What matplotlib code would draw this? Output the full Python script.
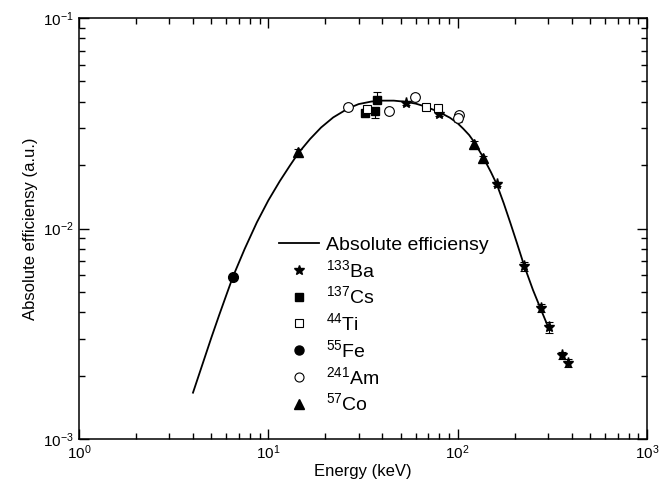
import matplotlib
matplotlib.use("Agg")
import matplotlib.pyplot as plt
from matplotlib.lines import Line2D

plt.rcParams['font.family'] = ['Liberation Sans', 'DejaVu Sans']
plt.rcParams['mathtext.fontset'] = 'custom'
plt.rcParams['mathtext.rm'] = 'Liberation Sans'
plt.rcParams['mathtext.it'] = 'Liberation Sans:italic'
plt.rcParams['mathtext.default'] = 'regular'

# fitted efficiency curve
curve_E = [4.0, 4.5, 5.0, 5.5, 6.0, 6.5, 7.5, 8.7, 10.0, 11.5, 13.0, 14.4, 16.6, 19.0,
           22.0, 26.4, 30.0, 35.0, 40.0, 46.0, 53.0, 60.0, 68.0, 80.0, 91.0, 100.0,
           107.0, 115.0, 122.0, 136.0, 150.0, 161.0, 175.0, 190.0, 205.0, 224.0,
           250.0, 276.0, 305.0]
curve_eff = [0.00166, 0.00228, 0.00303, 0.00388, 0.00483, 0.00590, 0.00800, 0.0107,
             0.0136, 0.0168, 0.0199, 0.0228, 0.0266, 0.0302, 0.0337, 0.0372, 0.0390,
             0.0401, 0.0405, 0.0405, 0.0400, 0.0392, 0.0379, 0.0357, 0.0336, 0.0316,
             0.0298, 0.0278, 0.0258, 0.0219, 0.0185, 0.0162, 0.0132, 0.0106, 0.0086,
             0.0067, 0.0051, 0.0041, 0.0033]

ba_E = [53.3, 80.0, 161.0, 224.0, 276.0, 303.0, 356.0, 384.0]
ba_eff = [0.0395, 0.0351, 0.0163, 0.0066, 0.0042, 0.0034, 0.0025, 0.0023]
ba_err = [0.0008, 0.0008, 0.0004, 0.0003, 0.0002, 0.0002, 0.0001, 0.0001]

cs_E = [32.4, 37.5, 36.6]
cs_eff = [0.0355, 0.0408, 0.0362]
cs_err_lo = [0.0, 0.0, 0.0026]
cs_err_hi = [0.0, 0.0037, 0.0]

ti_E = [33.2, 68.1, 79.0]
ti_eff = [0.0368, 0.0379, 0.0374]
ti_err = [0.0012, 0.0010, 0.0012]

fe_E = [6.5]
fe_eff = [0.0059]

am_E = [26.4, 43.4, 59.7, 101.8, 100.5]
am_eff = [0.0379, 0.0362, 0.0422, 0.0347, 0.0336]
am_err = [0.0012, 0.0, 0.0012, 0.0012, 0.0015]

co_E = [14.4, 122.0, 136.0]
co_eff = [0.0231, 0.0253, 0.0216]
co_err = [0.0008, 0.0008, 0.0006]

fig = plt.figure(figsize=(6.6, 4.92), dpi=100)
ax = fig.add_axes([0.1197, 0.1077, 0.8606, 0.8557])

ax.plot(curve_E, curve_eff, color='black', lw=1.3)

ebkw = dict(ecolor='black', elinewidth=0.8, capsize=3, capthick=0.8, ls='none')
ax.errorbar(ba_E, ba_eff, yerr=ba_err, marker='*', ms=8, mfc='black', mec='black', **ebkw)
ax.errorbar(cs_E, cs_eff, yerr=[cs_err_lo, cs_err_hi], marker='s', ms=6, mfc='black',
            mec='black', **ebkw)
ax.errorbar(ti_E, ti_eff, yerr=ti_err, marker='s', ms=6, mfc='white', mec='black',
            mew=0.8, **ebkw)
ax.errorbar(fe_E, fe_eff, marker='o', ms=7, mfc='black', mec='black', **ebkw)
ax.errorbar(am_E, am_eff, yerr=am_err, marker='o', ms=7, mfc='white', mec='black',
            mew=0.8, **ebkw)
ax.errorbar(co_E, co_eff, yerr=co_err, marker='^', ms=7, mfc='black', mec='black', **ebkw)

ax.set_xscale('log')
ax.set_yscale('log')
ax.set_xlim(1, 1000)
ax.set_ylim(1e-3, 1e-1)
ax.set_xlabel('Energy (keV)', fontsize=12, labelpad=1)
ax.set_ylabel('Absolute efficiensy (a.u.)', fontsize=12, labelpad=4)

ax.tick_params(which='both', direction='in', top=True, right=True, labelsize=11, width=1)
ax.tick_params(which='major', length=7)
ax.tick_params(which='minor', length=4)
for s in ax.spines.values():
    s.set_linewidth(1.1)

handles = [
    Line2D([], [], color='black', lw=1.3),
    Line2D([], [], ls='none', marker='*', ms=7, color='black'),
    Line2D([], [], ls='none', marker='s', ms=5.5, color='black'),
    Line2D([], [], ls='none', marker='s', ms=5.5, mfc='white', mec='black', mew=0.8),
    Line2D([], [], ls='none', marker='o', ms=6.5, color='black'),
    Line2D([], [], ls='none', marker='o', ms=6.5, mfc='white', mec='black', mew=0.8),
    Line2D([], [], ls='none', marker='^', ms=6.5, color='black'),
]
labels = ['Absolute efficiensy', '$^{133}$Ba', '$^{137}$Cs', '$^{44}$Ti',
          '$^{55}$Fe', '$^{241}$Am', '$^{57}$Co']
ax.legend(handles, labels, loc='upper left', bbox_to_anchor=(0.338, 0.50), frameon=False,
          fontsize=14, handlelength=2.05, handletextpad=0.36, labelspacing=0.25,
          borderaxespad=0)

fig.savefig('out.png', dpi=100)
